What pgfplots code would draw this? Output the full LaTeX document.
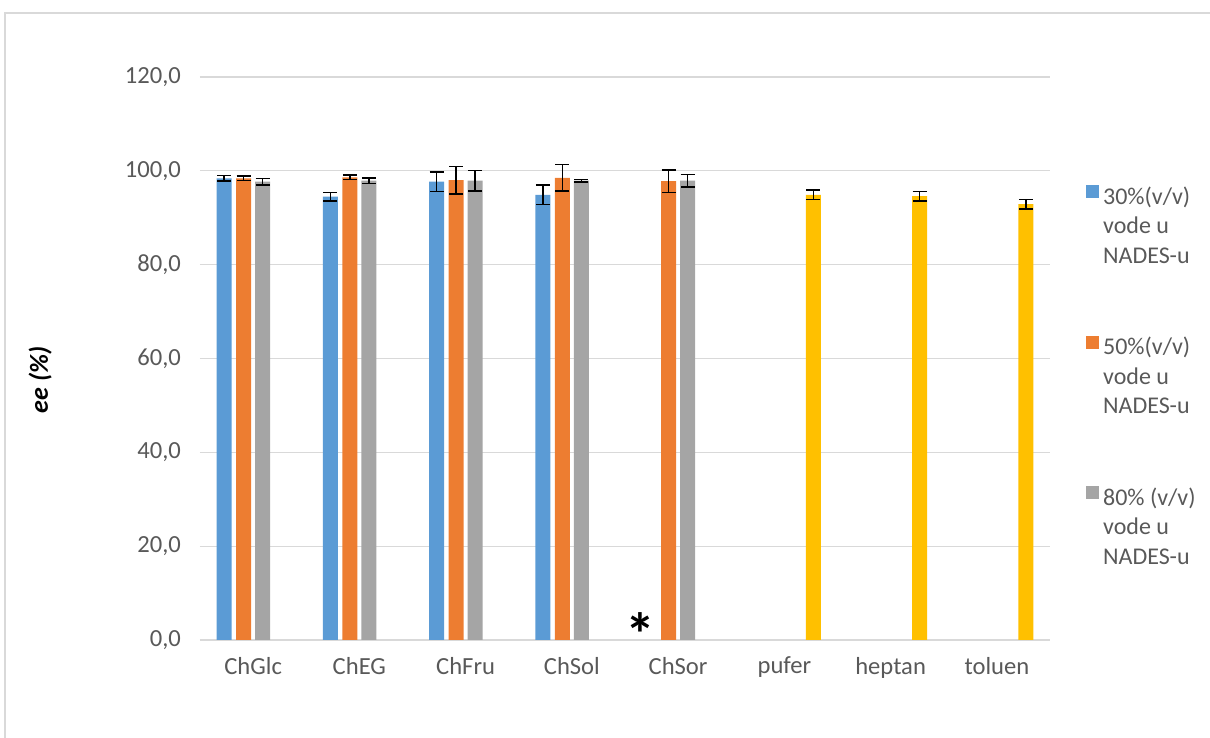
\documentclass[border=0pt]{standalone}
\usepackage{fontspec}
\setmainfont{Carlito}
\usepackage{pgfplots}
\pgfplotsset{compat=1.18}
\definecolor{cblue}{HTML}{5B9BD5}
\definecolor{corange}{HTML}{ED7D31}
\definecolor{cgray}{HTML}{A5A5A5}
\definecolor{cyellow}{HTML}{FFC000}
\definecolor{gridgray}{HTML}{D9D9D9}
\definecolor{textgray}{HTML}{595959}
\begin{document}
\begin{tikzpicture}
\useasboundingbox (-100pt,-49pt) rectangle (505pt,320pt);
\draw[gridgray, line width=0.6pt] (505pt,313.5pt) -- (-97.5pt,313.5pt) -- (-97.5pt,-49pt);
\begin{axis}[
  at={(0,0)}, anchor=south west,
  width=425pt, height=281.5pt, scale only axis,
  ymin=0, ymax=120, xmin=-0.5, xmax=7.5,
  ytick={0,20,...,120},
  xtick={0,...,7},
  xticklabels={ChGlc,ChEG,ChFru,ChSol,ChSor,pufer,heptan,toluen},
  ymajorgrids, grid style={gridgray, line width=0.6pt},
  axis x line=bottom, axis y line=left,
  axis line style={-},
  x axis line style={gridgray, line width=0.75pt},
  y axis line style={draw=none},
  major tick length=0pt,
  tick label style={font=\fontsize{12.3}{14}\selectfont, text=textgray},
  /pgf/number format/.cd, fixed, fixed zerofill, precision=1, use comma, assume math mode=true,
  /pgfplots/.cd,
  yticklabel style={xshift=-6pt},
  xticklabel style={yshift=-5pt},
  ylabel={\bfseries\itshape ee (\%)},
  ylabel style={at={(axis description cs:-0.188,0.462)}, anchor=center, font=\fontsize{13}{15}\selectfont, text=black},
  ybar, bar width=7.5pt,
  error bars/y dir=both, error bars/y explicit,
  error bars/error bar style={black, line width=0.75pt},
  error bars/error mark options={rotate=90, mark size=3.5pt, line width=0.75pt, black},
  legend style={at={(axis description cs:1.035,0.82)}, anchor=north west, draw=none, fill=none,
    font=\fontsize{12}{14.75}\selectfont, text=textgray, row sep=31.5pt,
    nodes={align=left, inner xsep=2pt}},
  legend cell align=left,
  legend image code/.code={\fill[#1] (0pt,14.25pt) rectangle (6.5pt,20.75pt);},
]
\addplot[fill=cblue, draw=none, bar shift=-14.5pt] coordinates {
  (0,98.4) +- (0,0.6)
  (1,94.5) +- (0,0.9)
  (2,97.7) +- (0,2.1)
  (3,94.9) +- (0,2.1)
};
\addlegendentry{30\%(v/v)\\vode u\\NADES-u}
\addplot[fill=corange, draw=none, bar shift=-4.8pt] coordinates {
  (0,98.4) +- (0,0.5)
  (1,98.6) +- (0,0.5)
  (2,98.0) +- (0,2.9)
  (3,98.5) +- (0,2.8)
  (4,97.8) +- (0,2.4)
};
\addlegendentry{50\%(v/v)\\vode u\\NADES-u}
\addplot[fill=cgray, draw=none, bar shift=4.8pt] coordinates {
  (0,97.7) +- (0,0.7)
  (1,97.9) +- (0,0.6)
  (2,97.9) +- (0,2.2)
  (3,97.9) +- (0,0.3)
  (4,97.9) +- (0,1.3)
};
\addlegendentry{80\% (v/v)\\vode u\\NADES-u}
\addplot[fill=cyellow, draw=none, bar shift=14.5pt, forget plot] coordinates {
  (5,94.9) +- (0,1.0)
  (6,94.6) +- (0,1.0)
  (7,92.9) +- (0,1.0)
};
\node[anchor=north, font=\fontsize{30}{30}\selectfont\bfseries, inner sep=0pt] at (axis cs:3.65,6.0) {*};
\end{axis}
\end{tikzpicture}
\end{document}
